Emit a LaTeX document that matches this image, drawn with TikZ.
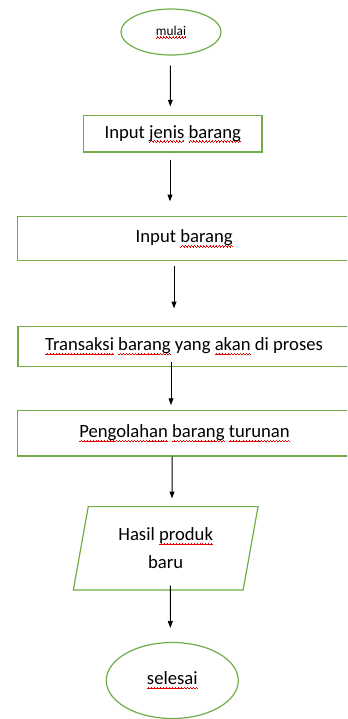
\documentclass[tikz,border=0pt]{standalone}
\usepackage{fontspec}
\setmainfont{Carlito}
\usetikzlibrary{arrows.meta,shapes.geometric}

\definecolor{boxgreen}{RGB}{112,173,71}
\definecolor{waveRed}{RGB}{230,0,0}

% red spell-check wave under a word
\newsavebox\wavebox
\newcommand\wavebit{\rule[-0.23em]{0.55pt}{0.5pt}\rule[-0.19em]{0.55pt}{0.5pt}\rule[-0.15em]{0.55pt}{0.5pt}\rule[-0.19em]{0.55pt}{0.5pt}}
\newcommand\redwave[1]{\sbox\wavebox{#1}\rlap{\color{waveRed}\hbox to\wd\wavebox{\xleaders\hbox{\wavebit}\hfil}}#1}

\tikzset{every picture/.style={line width=0.75pt}}
\tikzset{
  proc/.style={draw=boxgreen,line width=0.9pt,rectangle,inner sep=0.75pt,font=\fontsize{14}{17}\selectfont},
  term/.style={draw=boxgreen,line width=0.9pt,ellipse,inner sep=0.75pt},
  io/.style={draw=boxgreen,line width=0.9pt,trapezium,trapezium left angle=77.8,trapezium right angle=102.2,trapezium stretches=true,inner sep=0.75pt,align=center,font=\fontsize{14}{21}\selectfont},
  arr/.style={-{Triangle[length=5pt,width=3.6pt]},line width=0.75pt,black}
}

\begin{document}
\begin{tikzpicture}[x=0.75pt,y=0.75pt,yscale=-1,xscale=1]
	\useasboundingbox (0,0) rectangle (347,719);
	\clip (0,0) rectangle (347,719);
	
	%Shape: Ellipse [id:mulai] 
	\draw (171,32) node (mulai) [term,minimum width=75pt,minimum height=34.5pt,font=\fontsize{10}{12}\selectfont] {\redwave{mulai}};
	%Shape: Rectangle [id:jenis] 
	\draw (172.8,133.7) node (jenis) [proc,minimum width=133.7pt,minimum height=27.5pt] {Input \redwave{jenis} \redwave{barang}};
	%Shape: Rectangle [id:barang] 
	\draw (184.2,238.6) node (barang) [proc,minimum width=250.3pt,minimum height=33.2pt] {Input \redwave{barang}};
	%Shape: Rectangle [id:transaksi] 
	\draw (184,346.5) node (transaksi) [proc,minimum width=249pt,minimum height=29.7pt] {\redwave{Transaksi} \redwave{barang} yang \redwave{akan} di proses};
	%Shape: Rectangle [id:olah] 
	\draw (184.5,433.3) node (olah) [proc,minimum width=251pt,minimum height=34pt] {\redwave{Pengolahan} \redwave{barang} \redwave{turunan}};
	%Shape: Parallelogram [id:hasil] 
	\draw (165.7,548.3) node (hasil) [io,minimum width=139.5pt,minimum height=62.5pt] {Hasil \redwave{produk}\\baru};
	%Shape: Ellipse [id:selesai] 
	\draw (172.3,680.5) node (selesai) [term,minimum width=99pt,minimum height=57pt,font=\fontsize{14}{17}\selectfont] {\redwave{selesai}};
	
	%Straight Lines [id:a1] 
	\draw [arr] ([shift={(-0.7,10)}]mulai.south) -- ([shift={(-2.5,-8.3)}]jenis.north) ;
	%Straight Lines [id:a2] 
	\draw [arr] ([shift={(-2.8,7)}]jenis.south) -- ([shift={(-14.2,-14.5)}]barang.north) ;
	%Straight Lines [id:a3] 
	\draw [arr] ([shift={(-10.2,4.3)}]barang.south) -- ([shift={(-10,-17.7)}]transaksi.north) ;
	%Straight Lines [id:a4] 
	\draw [arr] ([shift={(-13,-4.6)}]transaksi.south) -- ([shift={(-13.5,-5)}]olah.north) ;
	%Straight Lines [id:a5] 
	\draw [arr] ([shift={(-12.5,0)}]olah.south) -- ([shift={(6.3,-7.7)}]hasil.north) ;
	%Straight Lines [id:a6] 
	\draw [arr] ([shift={(4.6,-5)}]hasil.south) -- ([shift={(-2,-14)}]selesai.north) ;
	
\end{tikzpicture}
\end{document}
